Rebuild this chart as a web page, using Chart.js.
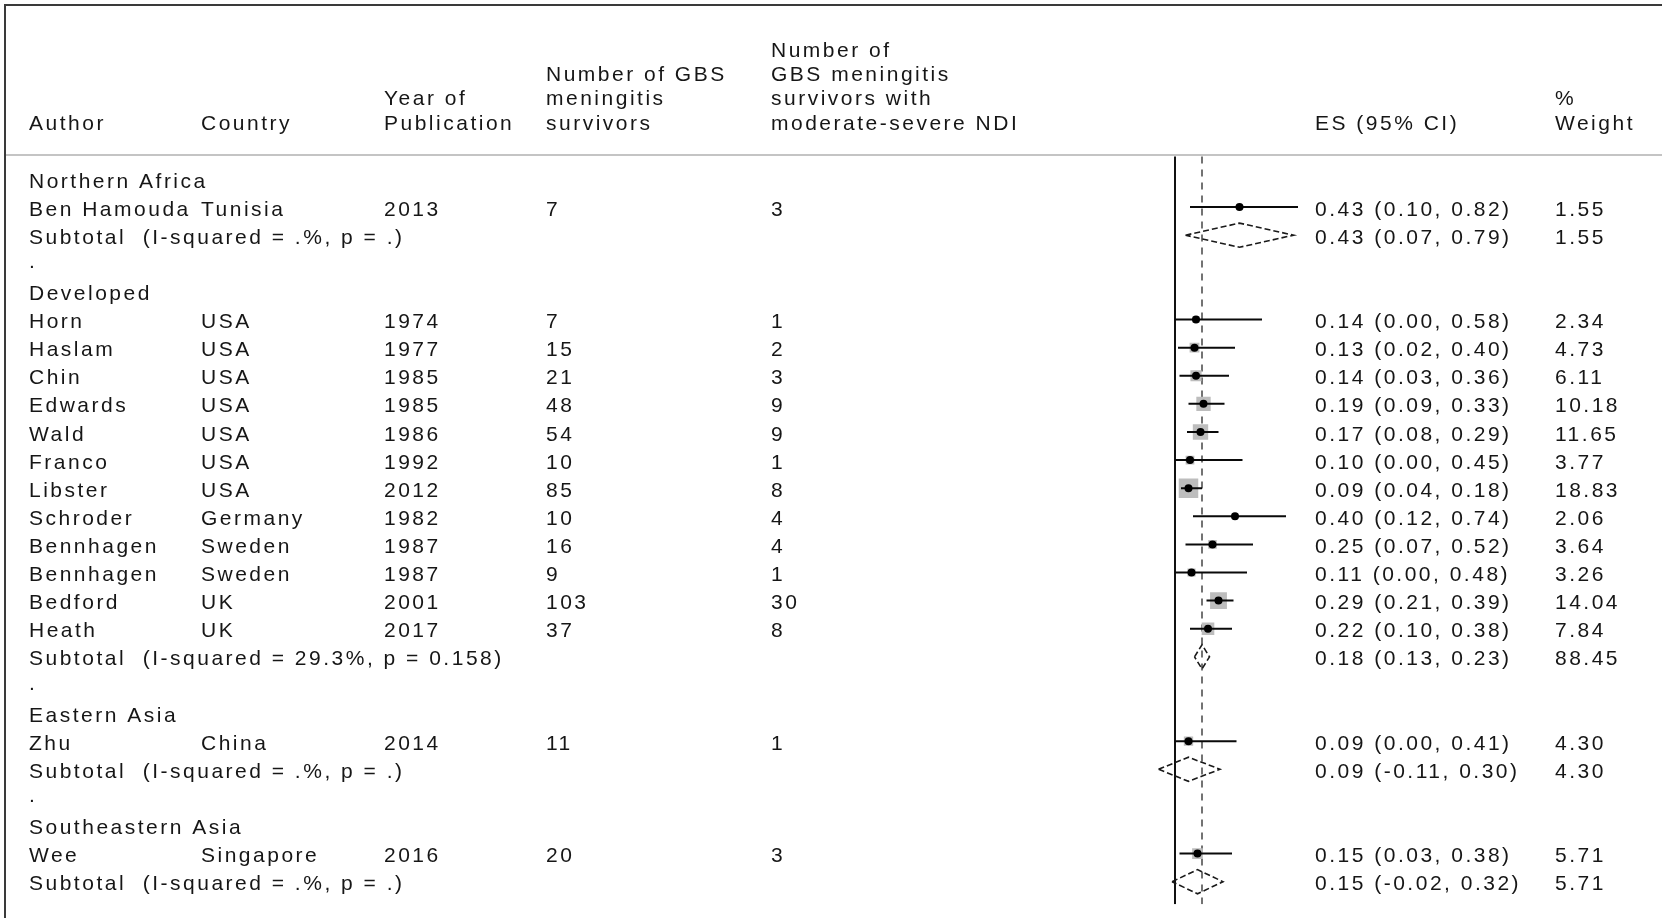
<!DOCTYPE html>
<html>
<head>
<meta charset="utf-8">
<script src="https://cdn.jsdelivr.net/npm/chart.js@4/dist/chart.umd.min.js"></script>
<style>
  body { margin: 0; background: #fff; }
  #wrap { position: relative; width: 1662px; height: 918px; }
</style>
</head>
<body>
<div id="wrap"><canvas id="forest"></canvas></div>
<script>
// === Data ===
const groups = ['Northern Africa', 'Developed', 'Eastern Asia', 'Southeastern Asia'];
const groupSizes = [1, 12, 1, 1];

const authors = ['Ben Hamouda', 'Horn', 'Haslam', 'Chin', 'Edwards', 'Wald', 'Franco', 'Libster',
  'Schroder', 'Bennhagen', 'Bennhagen', 'Bedford', 'Heath', 'Zhu', 'Wee'];
const countries = ['Tunisia', 'USA', 'USA', 'USA', 'USA', 'USA', 'USA', 'USA',
  'Germany', 'Sweden', 'Sweden', 'UK', 'UK', 'China', 'Singapore'];
const years = [2013, 1974, 1977, 1985, 1985, 1986, 1992, 2012, 1982, 1987, 1987, 2001, 2017, 2014, 2016];
const survivors = [7, 7, 15, 21, 48, 54, 10, 85, 10, 16, 9, 103, 37, 11, 20];
const withNDI = [3, 1, 2, 3, 9, 9, 1, 8, 4, 4, 1, 30, 8, 1, 3];

const es = [0.43, 0.14, 0.13, 0.14, 0.19, 0.17, 0.10, 0.09, 0.40, 0.25, 0.11, 0.29, 0.22, 0.09, 0.15];
const ciLow = [0.10, 0.00, 0.02, 0.03, 0.09, 0.08, 0.00, 0.04, 0.12, 0.07, 0.00, 0.21, 0.10, 0.00, 0.03];
const ciHigh = [0.82, 0.58, 0.40, 0.36, 0.33, 0.29, 0.45, 0.18, 0.74, 0.52, 0.48, 0.39, 0.38, 0.41, 0.38];
const weights = [1.55, 2.34, 4.73, 6.11, 10.18, 11.65, 3.77, 18.83, 2.06, 3.64, 3.26, 14.04, 7.84, 4.30, 5.71];

const subLabels = ['Subtotal  (I-squared = .%, p = .)', 'Subtotal  (I-squared = 29.3%, p = 0.158)',
  'Subtotal  (I-squared = .%, p = .)', 'Subtotal  (I-squared = .%, p = .)'];
const subES = [0.43, 0.18, 0.09, 0.15];
const subLow = [0.07, 0.13, -0.11, -0.02];
const subHigh = [0.79, 0.23, 0.30, 0.32];
const subWeights = [1.55, 88.45, 4.30, 5.71];

const overallES = 0.18;

// === Row layout: group title, studies, subtotal, '.' spacer ===
const rows = [];
let k = 0;
groups.forEach((g, gi) => {
  rows.push({ kind: 'group', text: g });
  for (let j = 0; j < groupSizes[gi]; j++) {
    rows.push({ kind: 'study', idx: k++ });
  }
  rows.push({ kind: 'sub', idx: gi });
  if (gi < groups.length - 1) rows.push({ kind: 'dot' });
});

const yMin = -1;
const yMax = 25.7;

const fmtCI = (e, l, h) => e.toFixed(2) + ' (' + l.toFixed(2) + ', ' + h.toFixed(2) + ')';

// === Datasets ===
const datasets = [];
const squares = [];
const dots = [];

rows.forEach((r, ri) => {
  if (r.kind === 'study') {
    const i = r.idx;
    datasets.push({
      type: 'scatter', showLine: true, order: 1,
      data: [{ x: ciLow[i], y: ri - 0.1 }, { x: ciHigh[i], y: ri - 0.1 }],
      borderColor: '#0a0a0a', borderWidth: 2, pointRadius: 0
    });
    squares.push({ x: es[i], y: ri - 0.1, w: weights[i] });
    dots.push({ x: es[i], y: ri - 0.1 });
  }
  if (r.kind === 'sub') {
    const i = r.idx;
    const h = 0.43;
    const yc = ri - 0.1;
    datasets.push({
      type: 'scatter', showLine: true, order: 1,
      data: [
        { x: subLow[i], y: yc }, { x: subES[i], y: yc - h }, { x: subHigh[i], y: yc },
        { x: subES[i], y: yc + h }, { x: subLow[i], y: yc }
      ],
      borderColor: '#1a1a1a', borderWidth: 1.6, borderDash: [6, 3], pointRadius: 0, tension: 0
    });
  }
});

// gray boxes, area proportional to weight
datasets.push({
  type: 'scatter', order: 2,
  data: squares,
  pointStyle: 'rect',
  pointRadius: squares.map(s => 4.5 * Math.sqrt(s.w) / Math.SQRT2),
  backgroundColor: '#bdbdbd', borderWidth: 0
});
datasets.push({
  type: 'scatter', order: 0,
  data: dots,
  pointRadius: 4, backgroundColor: '#000', borderWidth: 0
});

// no-effect line and overall estimate line
datasets.push({
  type: 'scatter', showLine: true, order: 3,
  data: [{ x: 0, y: yMin + 0.1 }, { x: 0, y: yMax }],
  borderColor: '#111', borderWidth: 2, pointRadius: 0
});
datasets.push({
  type: 'scatter', showLine: true, order: 3,
  data: [{ x: overallES, y: yMin + 0.1 }, { x: overallES, y: yMax }],
  borderColor: '#444', borderWidth: 1.5, borderDash: [7, 6], pointRadius: 0
});

// === Table text ===
const colX = { author: 29, country: 201, year: 384, n: 546, ndi: 771, es: 1315, w: 1555 };

const tablePlugin = {
  id: 'tableText',
  afterDraw(chart) {
    const ctx = chart.ctx;
    const y = chart.scales.y;
    ctx.save();

    // frame and header rule
    ctx.strokeStyle = '#3a3a3a';
    ctx.lineWidth = 2;
    ctx.beginPath();
    ctx.moveTo(5, 930);
    ctx.lineTo(5, 5);
    ctx.lineTo(1662, 5);
    ctx.stroke();
    ctx.strokeStyle = '#c4c4c4';
    ctx.beginPath();
    ctx.moveTo(6, 155);
    ctx.lineTo(1662, 155);
    ctx.stroke();

    ctx.fillStyle = '#161616';
    ctx.font = '21px "Liberation Sans", Arial, sans-serif';
    if ('letterSpacing' in ctx) ctx.letterSpacing = '2.5px';
    ctx.textBaseline = 'middle';
    ctx.textAlign = 'left';

    const hdr = [
      [colX.author, ['Author']],
      [colX.country, ['Country']],
      [colX.year, ['Year of', 'Publication']],
      [colX.n, ['Number of GBS', 'meningitis', 'survivors']],
      [colX.ndi, ['Number of', 'GBS meningitis', 'survivors with', 'moderate-severe NDI']],
      [colX.es, ['ES (95% CI)']],
      [colX.w, ['%', 'Weight']]
    ];
    hdr.forEach(([x, lines]) => {
      lines.forEach((t, li) => {
        ctx.fillText(t, x, 124 - (lines.length - 1 - li) * 24.4);
      });
    });

    rows.forEach((r, ri) => {
      const py = y.getPixelForValue(ri);
      if (r.kind === 'group') ctx.fillText(r.text, colX.author, py);
      if (r.kind === 'dot') ctx.fillText('.', colX.author, py - 4);
      if (r.kind === 'study') {
        const i = r.idx;
        ctx.fillText(authors[i], colX.author, py);
        ctx.fillText(countries[i], colX.country, py);
        ctx.fillText(String(years[i]), colX.year, py);
        ctx.fillText(String(survivors[i]), colX.n, py);
        ctx.fillText(String(withNDI[i]), colX.ndi, py);
        ctx.fillText(fmtCI(es[i], ciLow[i], ciHigh[i]), colX.es, py);
        ctx.fillText(weights[i].toFixed(2), colX.w, py);
      }
      if (r.kind === 'sub') {
        const i = r.idx;
        ctx.fillText(subLabels[i], colX.author, py);
        ctx.fillText(fmtCI(subES[i], subLow[i], subHigh[i]), colX.es, py);
        ctx.fillText(subWeights[i].toFixed(2), colX.w, py);
      }
    });
    ctx.restore();
  }
};

// x: 0 sits at 1175px, 150px per unit
const xMin = -0.3;
const xMax = 1.0;

new Chart(document.getElementById('forest').getContext('2d'), {
  type: 'scatter',
  data: { datasets: datasets },
  options: {
    responsive: true,
    maintainAspectRatio: false,
    animation: false,
    events: [],
    layout: {
      padding: { left: 1130, right: 337, top: 153.67, bottom: 0 }
    },
    plugins: {
      legend: { display: false },
      tooltip: { enabled: false }
    },
    scales: {
      x: { type: 'linear', min: xMin, max: xMax, display: false },
      y: { type: 'linear', min: yMin, max: yMax, reverse: true, display: false }
    }
  },
  plugins: [tablePlugin]
});
</script>
</body>
</html>
